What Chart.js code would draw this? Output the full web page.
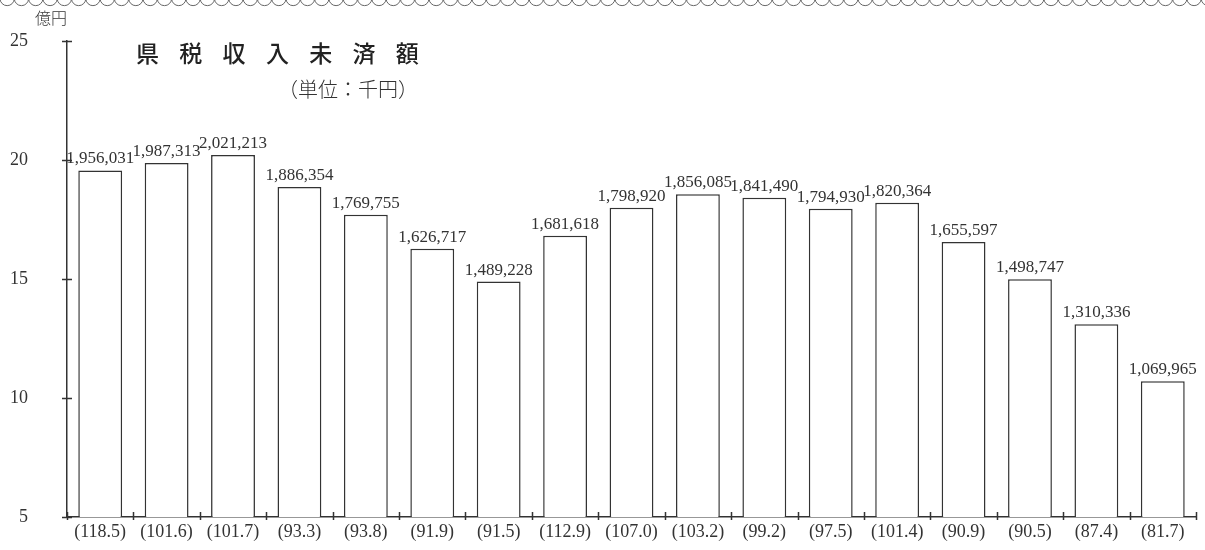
<!DOCTYPE html>
<html>
<head>
<meta charset="utf-8">
<script src="https://cdn.jsdelivr.net/npm/chart.js@4.4.0/dist/chart.umd.min.js"></script>
<style>
  html, body { margin: 0; padding: 0; background: #fff; }
  #wrap { width: 1205px; height: 550px; position: relative; }
</style>
</head>
<body>
<div id="wrap"><canvas id="taxChart" width="1205" height="550"></canvas></div>
<script>
// 前年比（%）をカテゴリラベルに
var ratioLabels = ["118.5", "101.6", "101.7", "93.3", "93.8", "91.9", "91.5", "112.9", "107.0",
                   "103.2", "99.2", "97.5", "101.4", "90.9", "90.5", "87.4", "81.7"];
// 収入未済額（千円）
var arrearsThousandYen = [1956031, 1987313, 2021213, 1886354, 1769755, 1626717, 1489228, 1681618,
                          1798920, 1856085, 1841490, 1794930, 1820364, 1655597, 1498747, 1310336, 1069965];
var yTicks = [5, 10, 15, 20, 25];

var titleText = "県税収入未済額";
var unitText = "（単位：千円）";
var yUnitText = "億円";

var numFont = '"Liberation Serif", "Times New Roman", serif';
var jpFont = '"Noto Sans CJK JP", sans-serif';

var fmt = function(v) {
  return v.toString().replace(/\B(?=(\d{3})+(?!\d))/g, ",");
};

// 億円に換算して描画
var plotValues = arrearsThousandYen.map(function(v) { return v / 100000; });

var decorPlugin = {
  id: "decor",
  beforeDraw: function(chart) {
    var ctx = chart.ctx, w = chart.width, x;
    ctx.save();
    ctx.strokeStyle = "#666";
    ctx.lineWidth = 1;
    ctx.beginPath();
    for (x = 0; x < w + 14; x += 14.3) {
      ctx.moveTo(x, -1);
      ctx.arc(x + 7.15, -1.5, 7.15, Math.PI, 0, true);
    }
    ctx.stroke();
    ctx.restore();
  },
  afterDraw: function(chart) {
    var ctx = chart.ctx, xs = chart.scales.x, ys = chart.scales.y;
    var area = chart.chartArea, i, n = plotValues.length;
    ctx.save();
    ctx.strokeStyle = "#333";
    ctx.lineWidth = 1.5;
    ctx.beginPath();
    yTicks.forEach(function(t) {
      var py = Math.round(ys.getPixelForValue(t)) + 0.5;
      ctx.moveTo(area.left - 5, py);
      ctx.lineTo(area.left + 5, py);
    });
    var half = (xs.getPixelForValue(1) - xs.getPixelForValue(0)) / 2;
    for (i = 0; i <= n; i++) {
      var px = Math.round(xs.getPixelForValue(i) - half) + 0.5;
      ctx.moveTo(px, area.bottom - 5);
      ctx.lineTo(px, area.bottom + 3);
    }
    ctx.stroke();

    // 棒の上の数値
    var meta = chart.getDatasetMeta(0);
    ctx.fillStyle = "#333";
    ctx.font = "17px " + numFont;
    ctx.textAlign = "center";
    ctx.textBaseline = "alphabetic";
    meta.data.forEach(function(bar, idx) {
      ctx.fillText(fmt(arrearsThousandYen[idx]), bar.x, bar.y - 7);
    });

    // 見出し
    ctx.textAlign = "left";
    ctx.font = "500 23px " + jpFont;
    ctx.fillStyle = "#222";
    ctx.letterSpacing = "20.3px";
    ctx.textBaseline = "middle";
    ctx.fillText(titleText, 136, 53);
    ctx.letterSpacing = "0px";
    ctx.font = "300 20px " + jpFont;
    ctx.fillStyle = "#333";
    ctx.fillText(unitText, 278, 89);
    ctx.font = "300 16px " + jpFont;
    ctx.fillText(yUnitText, 35, 18);
    ctx.restore();
  }
};

var chart = new Chart(document.getElementById("taxChart"), {
  type: "bar",
  data: {
    labels: ratioLabels.map(function(r) { return "(" + r + ")"; }),
    datasets: [{
      data: plotValues,
      backgroundColor: "#fff",
      borderColor: "#333",
      borderWidth: 1.5,
      borderSkipped: "bottom",
      categoryPercentage: 1.0,
      barPercentage: 0.66
    }]
  },
  options: {
    responsive: false,
    animation: false,
    layout: { padding: { top: 41, right: 9, left: 0, bottom: 0 } },
    plugins: {
      legend: { display: false },
      tooltip: { enabled: false }
    },
    scales: {
      x: {
        grid: { display: false, drawTicks: false },
        border: { display: true, color: "#333", width: 1.5 },
        ticks: {
          color: "#333",
          font: { family: numFont, size: 18 },
          padding: 4,
          maxRotation: 0,
          autoSkip: false
        },
        afterFit: function(scale) { scale.height = 33; }
      },
      y: {
        min: 5,
        max: 25,
        // 目盛り線は透明にして、ラベルの位置だけ決める
        grid: { display: true, drawOnChartArea: false, drawTicks: true, tickLength: 39, tickColor: "rgba(0,0,0,0)" },
        border: { display: true, color: "#333", width: 1.5 },
        ticks: {
          stepSize: 5,
          color: "#333",
          font: { family: numFont, size: 18 },
          padding: 0
        },
        afterFit: function(scale) { scale.width = 67; }
      }
    }
  },
  plugins: [decorPlugin]
});
</script>
</body>
</html>
